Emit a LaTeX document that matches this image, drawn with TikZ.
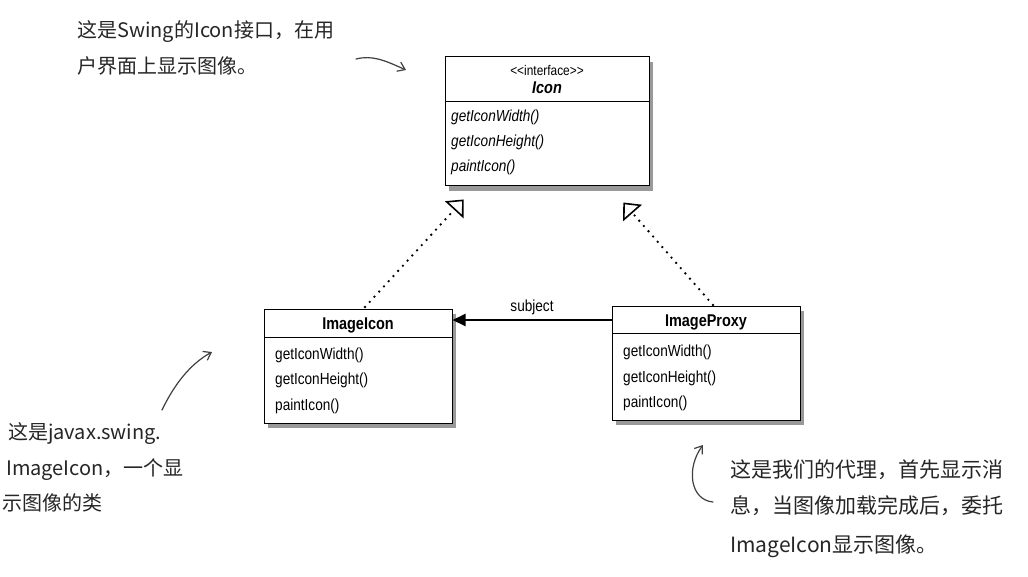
\documentclass[tikz,border=0pt]{standalone}
\usepackage{fontspec}
\setmainfont{Liberation Sans}
\newfontfamily\umlfont[FakeStretch=0.85]{Liberation Sans}
\newfontfamily\cjk{Noto Sans CJK SC}
\usetikzlibrary{arrows.meta,shadows}
\begin{document}
\begin{tikzpicture}[x=1pt,y=-1pt,
  umlbox/.style={draw=black,line width=1pt,fill=white,inner sep=0,
    drop shadow={shadow xshift=4pt,shadow yshift=-5pt,fill=black!50,opacity=0.8}},
  divider/.style={draw=black,line width=1pt},
  meth/.style={anchor=west,inner sep=0,font=\umlfont\fontsize{16}{18}\selectfont},
  imeth/.style={meth,font=\umlfont\fontsize{16}{18}\selectfont\itshape},
  title/.style={inner sep=0,font=\umlfont\fontsize{17}{19}\selectfont\bfseries},
  hand/.style={anchor=base west,inner sep=0,text=black!85,font=\cjk\fontsize{20}{24}\selectfont},
  handarrow/.style={draw=black!75,line width=1.2pt,line cap=round,-{Straight Barb[length=7pt,width=10pt]}},
  realize/.style={line width=2.6pt,line cap=round,dash pattern=on 0pt off 7pt,
    -{Triangle[open,length=14pt,width=25pt,line width=1.6pt,sep=2pt]}}
]
\useasboundingbox[fill=white] (0,0) rectangle (1028,576);

% Icon interface box
\node[umlbox,minimum width=204,minimum height=129] (icon) at (547,121) {};
\draw[divider] (445,101) -- (649,101);
\node[inner sep=0,font=\umlfont\fontsize{14}{16}\selectfont] (stereo) at (547,70) {{<}{<}interface{>}{>}};
\node[title,font=\umlfont\fontsize{17}{19}\selectfont\bfseries\itshape] (iconname) at (547,88) {Icon};
\node[imeth] (i1) at (451,117) {getIconWidth()};
\node[imeth] (i2) at (451,142) {getIconHeight()};
\node[imeth] (i3) at (451,167) {paintIcon()};

% ImageIcon box
\node[umlbox,minimum width=188,minimum height=114] (imageicon) at (358,366) {};
\draw[divider] (264,337) -- (452,337);
\node[title] (iiname) at (358,325) {ImageIcon};
\node[meth] (ii1) at (275,355) {getIconWidth()};
\node[meth] (ii2) at (275,380) {getIconHeight()};
\node[meth] (ii3) at (275,406) {paintIcon()};

% ImageProxy box
\node[umlbox,minimum width=188,minimum height=114] (imageproxy) at (706,363) {};
\draw[divider] (612,333) -- (800,333);
\node[title] (ipname) at (706,322) {ImageProxy};
\node[meth] (ip1) at (623,352) {getIconWidth()};
\node[meth] (ip2) at (623,378) {getIconHeight()};
\node[meth] (ip3) at (623,403) {paintIcon()};

% realization arrows
\coordinate (tipL) at (465,198);
\coordinate (tipR) at (622,201);
\coordinate (srcL) at (365,307);
\coordinate (srcR) at (713,305);
\draw[realize] (srcL) -- (tipL);
\draw[realize] (srcR) -- (tipR);

% association
\draw[line width=2pt,-{Triangle[length=13pt,width=12pt]}] (imageproxy.west |- 0,320) -- (imageicon.east |- 0,320)
  node[midway,above=4pt,inner sep=0,font=\umlfont\fontsize{16}{18}\selectfont] (subj) {subject};

% annotations
\node[hand] (a1) at (77,37) {这是Swing的Icon接口，在用};
\node[hand] (a2) at (77,73) {户界面上显示图像。};

\node[hand] (b1) at (8,439) {这是javax.swing.};
\node[hand] (b2) at (6,475) {ImageIcon，一个显};
\node[hand] (b3) at (2,510) {示图像的类};

\node[hand,font=\cjk\fontsize{21}{24}\selectfont] (c1) at (730,477) {这是我们的代理，首先显示消};
\node[hand,font=\cjk\fontsize{21}{24}\selectfont] (c2) at (730,513) {息，当图像加载完成后，委托};
\node[hand,font=\cjk\fontsize{21}{24}\selectfont] (c3) at (730,552) {ImageIcon显示图像。};

% hand-drawn arrows
\coordinate (h1s) at (356,59);
\coordinate (h1e) at (406,70);
\draw[handarrow] (h1s) .. controls (372,55) and (384,60) .. (h1e);
\coordinate (h2s) at (162,410);
\coordinate (h2e) at (212,352);
\draw[handarrow] (h2s) .. controls (174,385) and (190,364) .. (h2e);
\coordinate (h3s) at (713,502);
\coordinate (h3e) at (703,445);
\draw[handarrow] (h3s) .. controls (690,500) and (686,468) .. (h3e);
\end{tikzpicture}
\end{document}
